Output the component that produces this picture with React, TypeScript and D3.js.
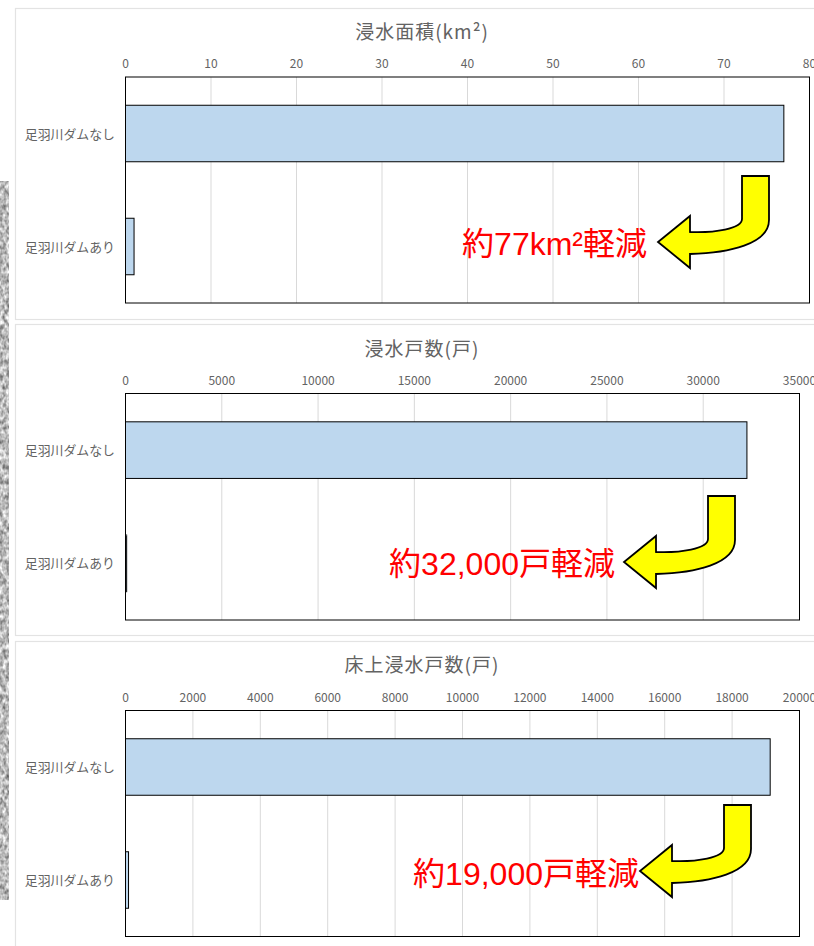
import React from "react";
import * as d3 from "d3";

const categories = ["足羽川ダムなし", "足羽川ダムあり"];
const titles = ["浸水面積(km²)", "浸水戸数(戸)", "床上浸水戸数(戸)"];
const areaValues = [77, 1];
const houseValues = [32270, 60];
const floorValues = [19130, 90];
const areaTicks = [0, 10, 20, 30, 40, 50, 60, 70, 80];
const houseTicks = [0, 5000, 10000, 15000, 20000, 25000, 30000, 35000];
const floorTicks = [0, 2000, 4000, 6000, 8000, 10000, 12000, 14000, 16000, 18000, 20000];
const notes = ["約77km²軽減", "約32,000戸軽減", "約19,000戸軽減"];

const FONT = '"Noto Sans CJK JP", sans-serif';
const NOTE_FONT = '"Liberation Sans", "Noto Sans CJK JP", sans-serif';
const GREY = "#636363";

const panels = [
  { top: 8, bottom: 319, titleY: 38.5, plotTop: 77, plotBottom: 303, plotRight: 809.5, tickY: 68, labelShift: 1, values: areaValues, ticks: areaTicks, arrowX: 769, arrowY: 176, noteX: 647, noteY: 255 },
  { top: 324, bottom: 635, titleY: 355.5, plotTop: 393.5, plotBottom: 620, plotRight: 799.5, tickY: 385, labelShift: 0, values: houseValues, ticks: houseTicks, arrowX: 735, arrowY: 496, noteX: 615, noteY: 575 },
  { top: 641, bottom: 960, titleY: 671.5, plotTop: 710.5, plotBottom: 936.5, plotRight: 799.5, tickY: 702, labelShift: 0, values: floorValues, ticks: floorTicks, arrowX: 751, arrowY: 805, noteX: 639, noteY: 885 },
];

function arrowPath(x: number, y: number) {
  const p = d3.path();
  p.moveTo(x - 27, y);
  p.lineTo(x, y);
  p.lineTo(x, y + 44);
  p.bezierCurveTo(x, y + 68, x - 40, y + 77, x - 79, y + 78);
  p.lineTo(x - 79, y + 92);
  p.lineTo(x - 111, y + 66);
  p.lineTo(x - 79, y + 40);
  p.lineTo(x - 79, y + 56);
  p.bezierCurveTo(x - 55, y + 57, x - 27, y + 53, x - 27, y + 43);
  p.closePath();
  return p.toString();
}

function Panel({ cfg, title, note }: { cfg: (typeof panels)[number]; title: string; note: string }) {
  const left = 125.5;
  const x = d3.scaleLinear().domain([0, cfg.ticks[cfg.ticks.length - 1]]).range([left, cfg.plotRight]);
  const y = d3.scaleBand().domain(categories).range([cfg.plotTop, cfg.plotBottom]).paddingInner(1 / 2).paddingOuter(1 / 4);
  const y0 = cfg.plotTop;
  return (
    <g>
      <rect x={15.5} y={cfg.top + 0.5} width={830} height={cfg.bottom - cfg.top} fill="#fff" stroke="#e3e3e3" strokeWidth={1.2} />
      <text x={422} y={cfg.titleY} textAnchor="middle" fontSize={19} letterSpacing={1} fill={GREY} fontFamily={FONT}>{title}</text>
      {cfg.ticks.map((t) => (
        <g key={t}>
          {t > 0 && t < cfg.ticks[cfg.ticks.length - 1] && (
            <line x1={x(t)} x2={x(t)} y1={y0} y2={cfg.plotBottom} stroke="#d9d9d9" strokeWidth={1} />
          )}
          <text x={x(t)} y={cfg.tickY} textAnchor="middle" fontSize={12} fill={GREY} fontFamily={FONT}>{t}</text>
        </g>
      ))}
      {categories.map((c, i) => (
        <g key={c}>
          <rect x={left} y={y(c)} width={x(cfg.values[i]) - left} height={y.bandwidth()} fill="#bdd7ee" stroke="#000" strokeWidth={1} />
          <text x={115} y={(y(c) as number) + y.bandwidth() / 2 + 4.5 + cfg.labelShift} textAnchor="end" fontSize={12.9} fill={GREY} fontFamily={FONT}>{c}</text>
        </g>
      ))}
      <rect x={left} y={y0} width={cfg.plotRight - left} height={cfg.plotBottom - y0} fill="none" stroke="#000" strokeWidth={1} />
      <path d={arrowPath(cfg.arrowX, cfg.arrowY)} fill="#ffff00" stroke="#000" strokeWidth={1.8} strokeLinejoin="miter" />
      <text x={cfg.noteX} y={cfg.noteY} textAnchor="end" fontSize={32} fill="#ff0000" fontFamily={NOTE_FONT}>{note}</text>
    </g>
  );
}

export default function App() {
  return (
    <svg width={814} height={946} style={{ position: "absolute", left: 0, top: 0, display: "block" }}>
      <defs>
        <filter id="mapTexture" x="0" y="0" width="100%" height="100%" colorInterpolationFilters="sRGB">
          <feTurbulence type="fractalNoise" baseFrequency="0.3 0.2" numOctaves={2} seed={7} />
          <feColorMatrix type="matrix" values="0.9 0 0 0 0.28  0.9 0 0 0 0.28  0.9 0 0 0 0.28  0 0 0 0 1" />
        </filter>
      </defs>
      <rect width={814} height={946} fill="#fff" />
      <rect x={0} y={181} width={9} height={719} filter="url(#mapTexture)" />
      {panels.map((p, i) => (
        <Panel key={i} cfg={p} title={titles[i]} note={notes[i]} />
      ))}
    </svg>
  );
}
